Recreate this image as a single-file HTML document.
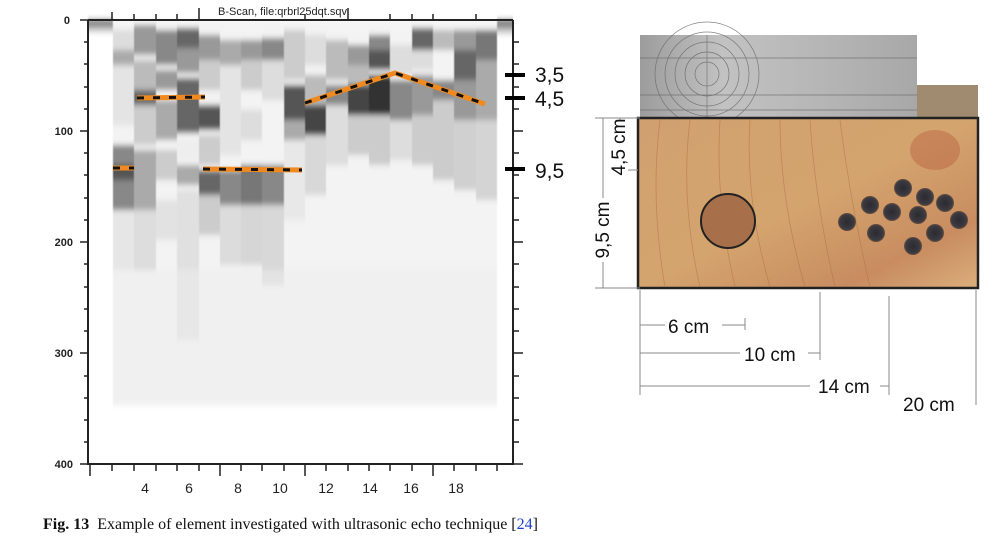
<!DOCTYPE html>
<html><head><meta charset="utf-8"><style>
body{margin:0;background:#fff;width:1006px;height:540px;overflow:hidden;font-family:"Liberation Sans",sans-serif}
</style></head><body>
<svg width="1006" height="540" viewBox="0 0 1006 540" xmlns="http://www.w3.org/2000/svg">
<defs>
<filter id="b" x="-5%" y="-5%" width="110%" height="110%"><feGaussianBlur stdDeviation="0.6 3"/></filter>
<linearGradient id="topd" x1="0" y1="0" x2="0" y2="1"><stop offset="0" stop-color="#555"/><stop offset="1" stop-color="#fff"/></linearGradient>
<linearGradient id="wood" x1="0" y1="0" x2="1" y2="1"><stop offset="0" stop-color="#d0a070"/><stop offset="0.5" stop-color="#d4a46e"/><stop offset="0.8" stop-color="#c88c60"/><stop offset="1" stop-color="#dcae7c"/></linearGradient>
<linearGradient id="rul" x1="0" y1="0" x2="1" y2="0"><stop offset="0" stop-color="#9c9c9c"/><stop offset="0.3" stop-color="#c2c2c2"/><stop offset="0.7" stop-color="#b4b4b4"/><stop offset="1" stop-color="#a8a8a8"/></linearGradient>
<radialGradient id="hole"><stop offset="0" stop-color="#2a2a30"/><stop offset="0.8" stop-color="#3a3a40"/><stop offset="1" stop-color="#6a5040"/></radialGradient>
</defs>
<g filter="url(#b)">
<rect x="113" y="20" width="384" height="385" fill="#f3f3f3"/>
<rect x="88" y="20" width="25" height="14" fill="url(#topd)"/>
<rect x="497" y="20" width="16" height="16" fill="url(#topd)"/>
<rect x="113" y="30" width="21" height="20" fill="#ddd"/><rect x="113" y="50" width="21" height="15" fill="#aaa"/><rect x="113" y="65" width="21" height="60" fill="#e4e4e4"/><rect x="113" y="145" width="21" height="20" fill="#888"/><rect x="113" y="165" width="21" height="15" fill="#555"/><rect x="113" y="180" width="21" height="30" fill="#888"/><rect x="113" y="210" width="21" height="60" fill="#e6e6e6"/>
<rect x="134" y="25" width="22" height="30" fill="#999"/><rect x="134" y="60" width="22" height="30" fill="#bbb"/><rect x="134" y="90" width="22" height="15" fill="#666"/><rect x="134" y="105" width="22" height="40" fill="#ccc"/><rect x="134" y="150" width="22" height="60" fill="#aaa"/><rect x="134" y="210" width="22" height="60" fill="#ddd"/>
<rect x="156" y="30" width="21" height="35" fill="#888"/><rect x="156" y="70" width="21" height="20" fill="#999"/><rect x="156" y="100" width="21" height="40" fill="#aaa"/><rect x="156" y="150" width="21" height="30" fill="#ccc"/><rect x="156" y="200" width="21" height="40" fill="#e2e2e2"/>
<rect x="177" y="28" width="22" height="20" fill="#666"/><rect x="177" y="48" width="22" height="25" fill="#999"/><rect x="177" y="78" width="22" height="55" fill="#666"/><rect x="177" y="140" width="22" height="20" fill="#eee"/><rect x="177" y="165" width="22" height="20" fill="#aaa"/><rect x="177" y="190" width="22" height="150" fill="#e0e0e0"/>
<rect x="199" y="35" width="21" height="25" fill="#999"/><rect x="199" y="60" width="21" height="30" fill="#ccc"/><rect x="199" y="105" width="21" height="25" fill="#555"/><rect x="199" y="135" width="21" height="30" fill="#ccc"/><rect x="199" y="170" width="21" height="25" fill="#666"/><rect x="199" y="195" width="21" height="40" fill="#ccc"/>
<rect x="220" y="40" width="21" height="25" fill="#aaa"/><rect x="220" y="65" width="21" height="90" fill="#e4e4e4"/><rect x="220" y="170" width="21" height="35" fill="#888"/><rect x="220" y="205" width="21" height="60" fill="#dcdcdc"/>
<rect x="241" y="40" width="21" height="20" fill="#999"/><rect x="241" y="60" width="21" height="30" fill="#ccc"/><rect x="241" y="110" width="21" height="30" fill="#ddd"/><rect x="241" y="165" width="21" height="40" fill="#777"/><rect x="241" y="205" width="21" height="60" fill="#d6d6d6"/>
<rect x="262" y="38" width="22" height="22" fill="#888"/><rect x="262" y="60" width="22" height="40" fill="#ddd"/><rect x="262" y="165" width="22" height="40" fill="#888"/><rect x="262" y="205" width="22" height="80" fill="#d8d8d8"/>
<rect x="284" y="30" width="21" height="50" fill="#ccc"/><rect x="284" y="85" width="21" height="35" fill="#555"/><rect x="284" y="120" width="21" height="20" fill="#aaa"/><rect x="284" y="140" width="21" height="80" fill="#e8e8e8"/>
<rect x="305" y="35" width="21" height="30" fill="#ddd"/><rect x="305" y="75" width="21" height="30" fill="#bbb"/><rect x="305" y="105" width="21" height="30" fill="#444"/><rect x="305" y="135" width="21" height="60" fill="#d8d8d8"/>
<rect x="326" y="40" width="22" height="40" fill="#bbb"/><rect x="326" y="85" width="22" height="20" fill="#888"/><rect x="326" y="105" width="22" height="60" fill="#ddd"/>
<rect x="348" y="45" width="21" height="20" fill="#999"/><rect x="348" y="65" width="21" height="20" fill="#bbb"/><rect x="348" y="85" width="21" height="30" fill="#444"/><rect x="348" y="115" width="21" height="40" fill="#ccc"/>
<rect x="369" y="35" width="21" height="15" fill="#888"/><rect x="369" y="50" width="21" height="20" fill="#555"/><rect x="369" y="75" width="21" height="40" fill="#333"/><rect x="369" y="115" width="21" height="50" fill="#ccc"/>
<rect x="390" y="45" width="22" height="30" fill="#ddd"/><rect x="390" y="80" width="22" height="40" fill="#888"/><rect x="390" y="120" width="22" height="40" fill="#ddd"/>
<rect x="412" y="28" width="21" height="22" fill="#666"/><rect x="412" y="50" width="21" height="20" fill="#ddd"/><rect x="412" y="75" width="21" height="40" fill="#999"/><rect x="412" y="115" width="21" height="50" fill="#ccc"/>
<rect x="433" y="30" width="21" height="20" fill="#bbb"/><rect x="433" y="80" width="21" height="20" fill="#888"/><rect x="433" y="100" width="21" height="80" fill="#ccc"/>
<rect x="454" y="30" width="22" height="20" fill="#999"/><rect x="454" y="50" width="22" height="30" fill="#666"/><rect x="454" y="80" width="22" height="40" fill="#999"/><rect x="454" y="120" width="22" height="70" fill="#d0d0d0"/>
<rect x="476" y="30" width="21" height="30" fill="#777"/><rect x="476" y="60" width="21" height="60" fill="#aaa"/><rect x="476" y="120" width="21" height="80" fill="#d4d4d4"/>
<rect x="113" y="270" width="384" height="135" fill="#eee" opacity="0.5"/>
</g>
<g stroke-width="5" fill="none">
<path d="M137 98 L205 97 M113 168 L134 168 M203 169 L302 170 M305 103 L395 73 L485 104" stroke="#f08a20"/>
<path d="M137 98 L205 97 M113 168 L134 168 M203 169 L302 170 M305 103 L395 73 L485 104" stroke="#111" stroke-width="3" stroke-dasharray="7 9"/>
</g>
<g stroke="#222" stroke-width="2" fill="none">
<path d="M88 20 V464 H513 V20"/>
<path d="M88 20 H513"/>
</g>
<g stroke="#222" stroke-width="1.5">
<path d="M80 20H88M80 131H88M80 242H88M80 353H88M80 464H88"/>
<path d="M84 42H88M84 64H88M84 87H88M84 109H88M84 153H88M84 175H88M84 198H88M84 220H88M84 264H88M84 287H88M84 309H88M84 331H88M84 376H88M84 398H88M84 420H88M84 442H88"/>
<path d="M513 42H519M513 64H519M513 87H519M513 109H519M513 131H523M513 153H519M513 175H519M513 198H519M513 220H519M513 242H523M513 264H519M513 287H519M513 309H519M513 331H519M513 353H523M513 376H519M513 398H519M513 420H519M513 442H519M513 464H523"/>
<path d="M90 464V476M112 464V471M134 464V471M156 464V471M177 464V471M199 464V471M220 464V476M241 464V471M262 464V471M284 464V471M305 464V476M326 464V471M348 464V471M369 464V471M390 464V471M412 464V471M433 464V476M454 464V471M476 464V471M497 464V471"/>
<path d="M112 20V12M134 20V14M156 20V14M177 20V14M199 20V8M305 20V14M348 20V8M390 20V14M412 20V14M433 20V14M476 20V14"/>
</g>
<g font-size="11" font-weight="bold" fill="#222" text-anchor="end">
<text x="70" y="24">0</text><text x="73" y="135">100</text><text x="73" y="246">200</text><text x="73" y="357">300</text><text x="73" y="468">400</text>
</g>
<g font-size="14" fill="#222" text-anchor="middle">
<text x="145" y="493">4</text><text x="189" y="493">6</text><text x="238" y="493">8</text><text x="280" y="493">10</text><text x="326" y="493">12</text><text x="370" y="493">14</text><text x="411" y="493">16</text><text x="456" y="493">18</text>
</g>
<text x="218" y="15" font-size="11" fill="#222">B-Scan, file:qrbrl25dqt.sqv</text>
<g stroke="#000" stroke-width="4"><path d="M505 75H525M505 98H525M505 169H525"/></g>
<g font-size="21" fill="#111"><text x="535" y="82">3,5</text><text x="535" y="106">4,5</text><text x="535" y="178">9,5</text></g>
<rect x="917" y="85" width="61" height="35" fill="#a08a70"/>
<rect x="640" y="35" width="277" height="84" fill="url(#rul)"/>
<g stroke="#666" stroke-width="0.7" fill="none" opacity="0.8">
<circle cx="707" cy="74" r="12"/><circle cx="707" cy="74" r="22"/><circle cx="707" cy="74" r="32"/><circle cx="707" cy="74" r="42"/><circle cx="707" cy="74" r="52"/>
<path d="M640 58H917M640 95H917M707 35V119M640 110H917"/>
</g>
<rect x="638" y="118" width="340" height="170" fill="url(#wood)" stroke="#222" stroke-width="2.5"/>
<g stroke="#a86e40" stroke-width="0.8" fill="none" opacity="0.5">
<path d="M660 120 Q650 200 665 287M690 120 Q680 200 700 287M720 120 Q715 200 735 287M750 120 Q745 200 770 287M780 120 Q780 200 805 287M810 120 Q815 200 835 287M840 120 Q850 200 870 287"/>
</g>
<ellipse cx="935" cy="150" rx="25" ry="20" fill="#b86040" opacity="0.45"/>
<circle cx="728" cy="221" r="27" fill="#a8704a" stroke="#222" stroke-width="2"/>
<g fill="url(#hole)">
<circle cx="903" cy="188" r="9"/><circle cx="925" cy="197" r="9"/><circle cx="945" cy="203" r="9"/><circle cx="870" cy="205" r="9"/><circle cx="892" cy="212" r="9"/><circle cx="918" cy="215" r="9"/><circle cx="959" cy="220" r="9"/><circle cx="847" cy="222" r="9"/><circle cx="876" cy="233" r="9"/><circle cx="935" cy="233" r="9"/><circle cx="913" cy="246" r="9"/>
</g>
<g stroke="#888" stroke-width="1" fill="none">
<path d="M595 118H640M595 288H640M603 118V288"/>
<path d="M612 118H638M612 170H638M620 118V170"/>
<path d="M640 290V395M820 292V360M889 296V395M976 290V405"/>
<path d="M640 325H665M722 325H745M745 318V330M640 353H740M808 353H820M640 386H810M880 386H889"/>
</g>
<g fill="#111" font-size="19">
<text x="668" y="333">6 cm</text><text x="744" y="361">10 cm</text><text x="818" y="393">14 cm</text><text x="903" y="411">20 cm</text>
<rect x="606" y="120" width="22" height="56" fill="#fff"/>
<text transform="translate(625,147) rotate(-90)" text-anchor="middle">4,5 cm</text>
<rect x="590" y="198" width="22" height="64" fill="#fff"/>
<text transform="translate(609,230) rotate(-90)" text-anchor="middle">9,5 cm</text>
</g>
<text x="43" y="529" font-family="'Liberation Serif',serif" font-size="16" fill="#111"><tspan font-weight="bold">Fig. 13</tspan><tspan dx="8">Example of element investigated with ultrasonic echo technique [</tspan><tspan fill="#1a3fd0">24</tspan>]</text>
</svg>
</body></html>
